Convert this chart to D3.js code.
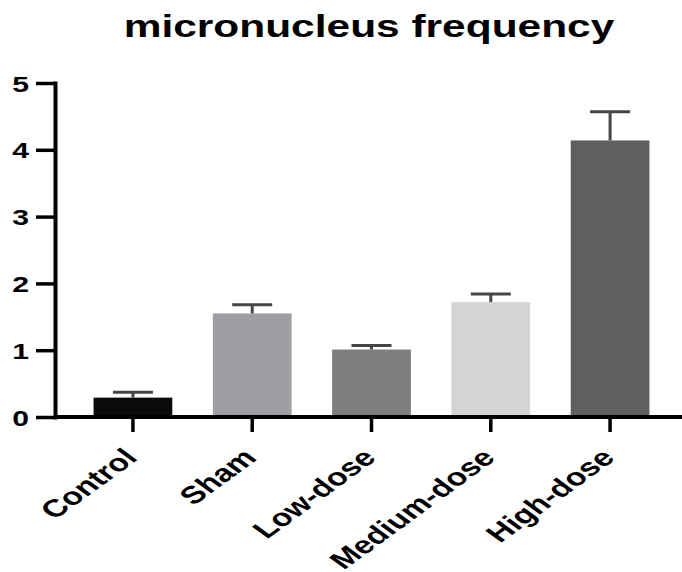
<!DOCTYPE html>
<html>
<head>
<meta charset="utf-8">
<script src="https://cdn.jsdelivr.net/npm/d3@7"></script>
<style>
  html, body { margin: 0; padding: 0; background: #fff; }
  text { font-family: "Liberation Sans", Arial, sans-serif; font-weight: bold; fill: #000; }
</style>
</head>
<body>
<div id="chart"></div>
<script>
var categories = ["Control", "Sham", "Low-dose", "Medium-dose", "High-dose"];
var means = [0.29, 1.55, 1.01, 1.72, 4.14];
var errors = [0.08, 0.13, 0.06, 0.12, 0.43];
var barColors = ["#0a0a0a", "#9e9ea3", "#7e7e7e", "#d4d4d4", "#5f5f5f"];
var yTicks = [0, 1, 2, 3, 4, 5];
var title = "micronucleus frequency";

var width = 682, height = 572;
var sx = 1.37; // reference is stretched horizontally

var svg = d3.select("#chart")
  .append("svg")
  .attr("width", width)
  .attr("height", height);

var x = d3.scaleBand()
  .domain(categories)
  .range([53, 690])
  .paddingInner(0.34)
  .paddingOuter(0.34);

var y = d3.scaleLinear()
  .domain([0, 5])
  .range([417, 83]);

// title
svg.append("text")
  .attr("transform", "translate(369,37) scale(" + sx + ",1)")
  .attr("text-anchor", "middle")
  .style("font-size", "31px")
  .text(title);

// bars
svg.append("g").selectAll("rect")
  .data(means)
  .join("rect")
  .attr("x", function(d, i){ return x(categories[i]); })
  .attr("y", function(d){ return y(d); })
  .attr("width", x.bandwidth())
  .attr("height", function(d){ return y(0) - y(d); })
  .attr("fill", function(d, i){ return barColors[i]; });

// error bars (upper only)
var eg = svg.append("g")
  .attr("stroke", "#454545")
  .attr("stroke-width", 3);
means.forEach(function(m, i){
  var cx = x(categories[i]) + x.bandwidth() / 2;
  eg.append("line")
    .attr("x1", cx).attr("x2", cx)
    .attr("y1", y(m)).attr("y2", y(m + errors[i]));
  eg.append("line")
    .attr("x1", cx - 20).attr("x2", cx + 20)
    .attr("y1", y(m + errors[i])).attr("y2", y(m + errors[i]));
});

// y axis
var yAxis = svg.append("g")
  .attr("transform", "translate(55,0)")
  .call(d3.axisLeft(y).tickValues(yTicks).tickFormat(d3.format("d")).tickSize(19).tickSizeOuter(0));
yAxis.select(".domain").attr("stroke-width", 4).attr("stroke-linecap", "square");
yAxis.selectAll(".tick line").attr("stroke-width", 3.5);
yAxis.selectAll(".tick text")
  .attr("x", 0)
  .attr("dy", null)
  .attr("transform", "translate(-26,8) scale(" + sx + ",1)")
  .style("font-size", "22px");

// x axis
var xAxis = svg.append("g")
  .attr("transform", "translate(0,417)")
  .call(d3.axisBottom(x).tickSize(15).tickSizeOuter(0));
xAxis.select(".domain").attr("stroke-width", 4).attr("d", "M55,0H682");
xAxis.selectAll(".tick line").attr("stroke-width", 3.5);
xAxis.selectAll(".tick text")
  .attr("y", 0)
  .attr("dy", null)
  .attr("text-anchor", "end")
  .attr("transform", "translate(6,42) scale(" + sx + ",1) rotate(-45)")
  .style("font-size", "24.5px");
</script>
</body>
</html>
